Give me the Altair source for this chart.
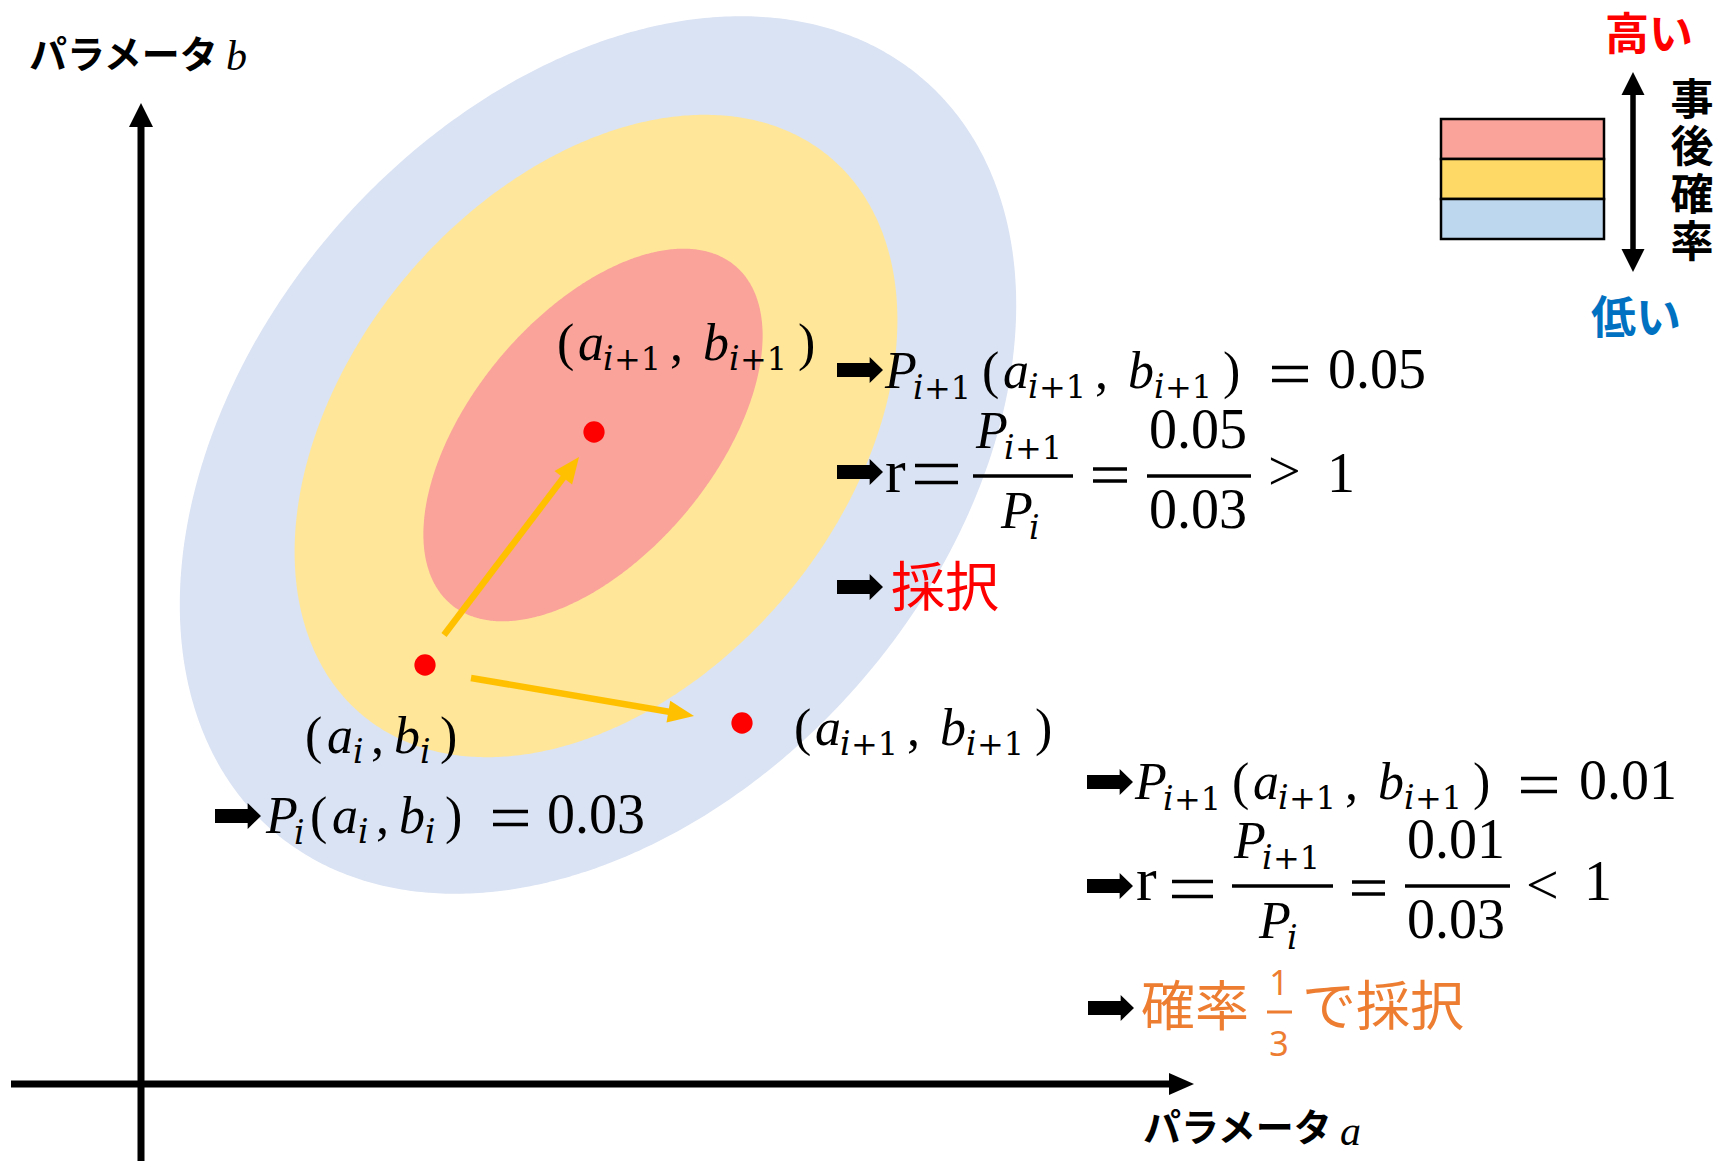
import altair as alt
import numpy as np
import pandas as pd

# ---------------- canvas (reference pixel coordinates) ----------------
VIEW_W, VIEW_H = 1711, 1153
MARGIN = 8
XS = alt.Scale(domain=[MARGIN, MARGIN + VIEW_W], nice=False, zero=False)
YS = alt.Scale(domain=[MARGIN, MARGIN + VIEW_H], nice=False, zero=False, reverse=True)

# ---------------- data ----------------
# posterior contour regions (outer = low, inner = high)
contour_level = ["低", "中", "高"]
contour_cx = [598, 596, 593]
contour_cy = [455, 436, 435]
contour_major = [497, 364, 221]
contour_minor = [347, 248, 121]
contour_tilt = [49, 50, 50]
contour_color = ["#DAE3F3", "#FFE699", "#F9A39A"]

# samples (current, accepted proposal, other proposal)
sample_x = [425, 594, 742]
sample_y = [665, 432, 723]

# proposal moves
move_x0 = [444, 471]
move_y0 = [635, 678]
move_x1 = [579, 694]
move_y1 = [457, 716]

# legend
legend_colors = ["#F9A39A", "#FFD966", "#BDD7EE"]
legend_top = [119, 159, 199]
legend_bottom = [159, 199, 239]
legend_title = "事\n後\n確\n率"

# math symbols
ARROW_GLYPH = "M -1 -0.3 L 0.42 -0.3 L 0.42 -0.56 L 1 0 L 0.42 0.56 L 0.42 0.3 L -1 0.3 Z"
arrow_glyph_x = [860, 860, 860, 238, 1110, 1110, 1111]
arrow_glyph_y = [370, 472, 587, 816, 782, 886, 1008]

SERIF = "Liberation Serif"
SUBF = "DejaVu Serif"
CJK = "Noto Sans CJK JP"


def X():
    return alt.X("x:Q", scale=XS, axis=None)


def Y():
    return alt.Y("y:Q", scale=YS, axis=None)


def texts(rows, font, size, color="black", style="normal", weight="normal",
          align="left", baseline="alphabetic", cjk=False, **extra):
    df = pd.DataFrame(rows, columns=["label", "x", "y"])
    if cjk:
        df["y"] = df["y"] + 0.08 * size
    return alt.Chart(df).mark_text(
        font=font, fontSize=size, color=color, fontStyle=style, fontWeight=weight,
        align=align, baseline=baseline, **extra
    ).encode(x=X(), y=Y(), text=alt.Text("label:N"))


def rules(x1, y1, x2, y2, color, width, cap="butt"):
    df = pd.DataFrame({"x": x1, "y": y1, "x2": x2, "y2": y2})
    return alt.Chart(df).mark_rule(color=color, strokeWidth=width, strokeCap=cap).encode(
        x=X(), y=Y(), x2="x2:Q", y2="y2:Q")


def symbols(xv, yv, shape, size, color, angles=None):
    df = pd.DataFrame({"x": xv, "y": yv, "ang": angles if angles is not None else [0] * len(xv)})
    return alt.Chart(df).mark_point(
        shape=shape, size=size, filled=True, color=color, opacity=1, strokeWidth=0
    ).encode(x=X(), y=Y(), angle=alt.Angle("ang:Q", scale=None))


layers = []

# ---------------- contour ellipses ----------------
for cx, cy, A, B, tilt, col in zip(contour_cx, contour_cy, contour_major, contour_minor,
                                   contour_tilt, contour_color):
    th = -np.radians(tilt)
    c, s = np.cos(th), np.sin(th)
    half_w = np.sqrt((A * c) ** 2 + (B * s) ** 2)
    u = -half_w * np.cos(np.linspace(0, np.pi, 300))
    qa = s * s / A ** 2 + c * c / B ** 2
    qb = 2 * u * c * s * (1 / A ** 2 - 1 / B ** 2)
    qc = u * u * (c * c / A ** 2 + s * s / B ** 2) - 1
    disc = np.clip(qb * qb - 4 * qa * qc, 0, None)
    v1 = (-qb - np.sqrt(disc)) / (2 * qa)
    v2 = (-qb + np.sqrt(disc)) / (2 * qa)
    df = pd.DataFrame({"x": cx + u, "y": cy + v1, "y2": cy + v2})
    layers.append(alt.Chart(df).mark_area(color=col, orient="vertical", opacity=1).encode(
        x=X(), y=Y(), y2="y2:Q"))

# ---------------- axes ----------------
layers.append(rules([11, 141], [1084, 1161], [1172, 141], [1084, 125], "black", 7))
layers.append(symbols([1181.5], [1084], "M 1 0 L -1 -0.88 L -1 0.88 Z", 625, "black"))
layers.append(symbols([141], [115], "M 0 -1 L 1 1 L -1 1 Z", 576, "black"))

# ---------------- proposal arrows ----------------
mx0, my0 = np.array(move_x0, float), np.array(move_y0, float)
mx1, my1 = np.array(move_x1, float), np.array(move_y1, float)
dx, dy = mx1 - mx0, my1 - my0
ln = np.hypot(dx, dy)
ux, uy = dx / ln, dy / ln
ang = np.degrees(np.arctan2(dy, dx)) % 360
layers.append(rules(list(mx0), list(my0), list(mx1 - 18 * ux), list(my1 - 18 * uy), "#FFC000", 6.5))
layers.append(symbols(list(mx1 - 13 * ux), list(my1 - 13 * uy), "M 1 0 L -1 -0.85 L -1 0.85 Z",
                      676, "#FFC000", list(ang)))

# ---------------- samples ----------------
layers.append(alt.Chart(pd.DataFrame({"x": sample_x, "y": sample_y})).mark_circle(
    color="#FF0000", size=452, opacity=1).encode(x=X(), y=Y()))

# ---------------- legend ----------------
leg = pd.DataFrame({"x": [1441] * 3, "x2": [1604] * 3, "y": legend_top, "y2": legend_bottom,
                    "c": legend_colors})
layers.append(alt.Chart(leg).mark_rect(stroke="black", strokeWidth=2.5, opacity=1).encode(
    x=X(), x2="x2:Q", y=Y(), y2="y2:Q", fill=alt.Fill("c:N", scale=None)))
layers.append(rules([1633], [92], [1633], [252], "black", 5.5))
layers.append(symbols([1633], [83.5], "M 0 -1 L 1 1 L -1 1 Z", 529, "black"))
layers.append(symbols([1633], [260.5], "M 0 1 L 1 -1 L -1 -1 Z", 529, "black"))
layers.append(texts([("高い", 1649, 33)], CJK, 44, "#FF0000", weight="bold", align="center",
                    baseline="middle", cjk=True))
layers.append(texts([("低い", 1636, 316)], CJK, 45, "#0070C0", weight="bold", align="center",
                    baseline="middle", cjk=True))
layers.append(texts([(legend_title, 1692, 81)], CJK, 43, weight="bold", align="center",
                    baseline="top", lineBreak="\n", lineHeight=47.3))

# ---------------- axis titles ----------------
layers.append(texts([("パラメータ", 29, 54), ("パラメータ", 1143, 1127)], CJK, 38, weight="bold",
                    baseline="middle", cjk=True))
layers.append(texts([("b", 226, 70), ("a", 1340, 1145)], SERIF, 42, style="italic"))

# ---------------- math ----------------
MI, MN, NUM, SI, SN, RR, REL = [], [], [], [], [], [], []
EQ = []     # (x1, x2, yc, gap)
BAR = []    # (x1, x2, y)


def pair(x0, yb, plus_one):
    ysb = yb + 10
    MN.append(("(", x0, yb))
    if plus_one:
        MI.extend([("a", x0 + 21, yb), ("b", x0 + 146, yb)])
        SI.extend([("i", x0 + 46, ysb), ("i", x0 + 172, ysb)])
        SN.extend([("+1", x0 + 57, ysb), ("+1", x0 + 183, ysb)])
        MN.extend([(",", x0 + 113, yb), (")", x0 + 241, yb)])
    else:
        MI.extend([("a", x0 + 22, yb), ("b", x0 + 89, yb)])
        SI.extend([("i", x0 + 48, ysb), ("i", x0 + 115, ysb)])
        MN.extend([(",", x0 + 66, yb), (")", x0 + 135, yb)])


def p_term(x0, yb, plus_one):
    MI.append(("P", x0, yb))
    SI.append(("i", x0 + 28, yb + 11))
    if plus_one:
        SN.append(("+1", x0 + 39, yb + 11))


# point labels
pair(557, 360, True)
pair(305, 753, False)
pair(794, 745, True)

# P_{i+1}(...) = 0.05
p_term(885, 388, True)
pair(982, 388, True)
NUM.append(("0.05", 1328, 388))
EQ.append((1272, 1308, 374, 13))

# r = P_{i+1}/P_i = 0.05/0.03 > 1
RR.append(("r", 885, 492))
EQ.append((915, 958, 474, 17))
p_term(976, 448, True)
p_term(1001, 528, False)
BAR.append((973, 1073, 476))
EQ.append((1093, 1127, 475, 12))
NUM.extend([("0.05", 1149, 448), ("0.03", 1149, 528), ("1", 1327, 492)])
BAR.append((1147, 1251, 476))
REL.append((">", 1268, 490))

# P_i(a_i, b_i) = 0.03
p_term(266, 833, False)
pair(310, 833, False)
NUM.append(("0.03", 547, 833))
EQ.append((493, 528, 818, 13))

# P_{i+1}(...) = 0.01
p_term(1135, 799, True)
pair(1232, 799, True)
NUM.append(("0.01", 1579, 799))
EQ.append((1521, 1557, 785, 13))

# r = P_{i+1}/P_i = 0.01/0.03 < 1
RR.append(("r", 1136, 900))
EQ.append((1172, 1213, 889, 15))
p_term(1234, 858, True)
p_term(1259, 938, False)
BAR.append((1232, 1333, 886))
EQ.append((1352, 1385, 888, 12))
NUM.extend([("0.01", 1407, 858), ("0.03", 1407, 938), ("1", 1584, 900)])
BAR.append((1405, 1510, 886))
REL.append(("<", 1526, 904))

layers.append(texts(MI, SERIF, 52, style="italic"))
layers.append(texts(MN, SERIF, 52))
layers.append(texts(NUM, SERIF, 56))
layers.append(texts(SI, SUBF, 33, style="italic"))
layers.append(texts(SN, SUBF, 32))
layers.append(texts(RR, SERIF, 62))
layers.append(texts(REL, SERIF, 58))

eq_x1 = [e[0] for e in EQ for _ in (0, 1)]
eq_x2 = [e[1] for e in EQ for _ in (0, 1)]
eq_y = [e[2] + sgn * e[3] / 2 for e in EQ for sgn in (-1, 1)]
layers.append(rules(eq_x1, eq_y, eq_x2, eq_y, "black", 3.5))
layers.append(rules([b[0] for b in BAR], [b[2] for b in BAR], [b[1] for b in BAR],
                    [b[2] for b in BAR], "black", 3.5))

# block arrows
layers.append(symbols(arrow_glyph_x, arrow_glyph_y, ARROW_GLYPH, 2116, "black"))

# ---------------- Japanese results ----------------
layers.append(texts([("採択", 891, 587)], CJK, 54, "#FF0000", baseline="middle", cjk=True))
layers.append(texts([("確率", 1141, 1006), ("で採択", 1302, 1006)], CJK, 54, "#ED7D31",
                    baseline="middle", cjk=True))
layers.append(texts([("1", 1279, 985), ("3", 1279, 1046)], "Noto Sans", 34, "#ED7D31",
                    align="center", baseline="middle"))
layers.append(rules([1267], [1012], [1292], [1012], "#ED7D31", 3))

chart = alt.layer(*layers).properties(
    width=VIEW_W, height=VIEW_H, padding=0, autosize=alt.AutoSizeParams(type="none"),
    background="white"
).configure_view(stroke=None)

chart.save("out.html", embed_options={"renderer": "svg", "actions": False})
